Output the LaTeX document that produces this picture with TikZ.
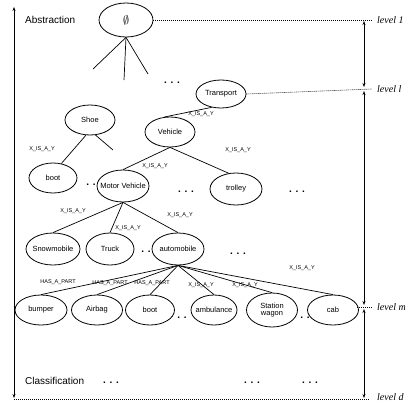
\documentclass[tikz,border=0pt]{standalone}
\usepackage{fontspec}
\setmainfont{Liberation Sans}
\newfontfamily\lvlfont{Liberation Serif}
\usetikzlibrary{shapes.geometric,arrows.meta}
\newcommand\zt[1]{\makebox[0pt]{#1}}
\begin{document}
\begin{tikzpicture}[x=1pt,y=-1pt,
 ell/.style={draw,ellipse,minimum width=50pt,minimum height=30pt,inner sep=0pt,line width=0.8pt,font=\fontsize{7.5}{8.5}\selectfont},
 edge/.style={line width=0.7pt},
 lab/.style={font=\fontsize{5.5}{6.5}\selectfont,inner sep=0pt},
 dts/.style={font=\fontsize{10}{11}\selectfont\bfseries,inner sep=0pt},
 lvl/.style={font=\lvlfont\itshape\fontsize{10}{11}\selectfont,anchor=west,inner sep=0pt},
 dotline/.style={dash pattern=on 1pt off 1pt,line width=0.6pt},
 darr/.style={{Stealth[length=4pt,width=3pt]}-{Stealth[length=4pt,width=3pt]},line width=0.7pt},
 big/.style={font=\fontsize{10}{11}\selectfont,inner sep=0pt,anchor=west}]
\useasboundingbox (0,0) rectangle (414,407);

% nodes
\node[ell,minimum width=54pt,minimum height=34pt,font=\fontsize{12}{13}\selectfont] (phi) at (126,20) {$\emptyset$};
\node[ell,minimum height=28pt] (trans) at (221,94) {\zt{Transport}};
\node[ell] (shoe) at (90,120) {\zt{Shoe}};
\node[ell] (veh) at (170,132) {\zt{Vehicle}};
\node[ell,minimum width=48pt] (boota) at (53,178) {\zt{boot}};
\node[ell,minimum width=52pt,minimum height=32pt] (mv) at (123,186) {\zt{Motor Vehicle}};
\node[ell,minimum width=52pt,minimum height=32pt] (trol) at (236,189) {\zt{trolley}};
\node[ell,minimum width=54pt,minimum height=32pt] (snow) at (53,249) {\zt{Snowmobile}};
\node[ell,minimum width=48pt,minimum height=32pt] (truck) at (110,249) {\zt{Truck}};
\node[ell,minimum width=52pt,minimum height=32pt] (auto) at (178,249) {\zt{automobile}};
\node[ell,minimum width=52pt] (bump) at (41,310) {\zt{bumper}};
\node[ell,minimum width=51pt] (air) at (97,310) {\zt{Airbag}};
\node[ell,minimum width=49pt] (bootb) at (150,310) {\zt{boot}};
\node[ell,minimum width=46pt] (amb) at (214,310) {\zt{ambulance}};
\node[ell,minimum width=51pt,minimum height=34pt,align=center] (sw) at (272,310) {\zt{\shortstack{Station\\wagon}}};
\node[ell,minimum width=51pt] (cab) at (333,310) {\zt{cab}};

% free ends
\coordinate (p1) at (93,69);
\coordinate (p2) at (124,80);
\coordinate (p3) at (148,74);
\coordinate (s1) at (113,150);

% edges
\draw[edge] (phi.south) -- (p1);
\draw[edge] (phi.south) -- (p2);
\draw[edge] (phi.south) -- (p3);
\draw[edge] (trans.235) -- (veh.110);
\draw[edge] (shoe.255) -- (boota.60);
\draw[edge] (shoe.290) -- (s1);
\draw[edge] (veh.south) -- (mv.north);
\draw[edge] (veh.south) -- (trol.115);
\draw[edge] (mv.south) -- (snow.north);
\draw[edge] (mv.south) -- (truck.north);
\draw[edge] (mv.south) -- (auto.north);
\foreach \t in {bump,air,bootb,amb,sw,cab}
  \draw[edge] (auto.south) -- (\t.north);

% edge labels
\node[lab] (l1) at (201,114) {X\_IS\_A\_Y};
\node[lab] (l2) at (42,149) {X\_IS\_A\_Y};
\node[lab] (l3) at (238,150) {X\_IS\_A\_Y};
\node[lab] (l4) at (155,166) {X\_IS\_A\_Y};
\node[lab] (l5) at (73,211) {X\_IS\_A\_Y};
\node[lab] (l6) at (128,228) {X\_IS\_A\_Y};
\node[lab] (l7) at (180,215) {X\_IS\_A\_Y};
\node[lab] (l8) at (58,282) {HAS\_A\_PART};
\node[lab] (l9) at (110,283) {HAS\_A\_PART};
\node[lab] (l10) at (152,283) {HAS\_A\_PART};
\node[lab] (l11) at (201,285) {X\_IS\_A\_Y};
\node[lab] (l12) at (245,285) {X\_IS\_A\_Y};
\node[lab] (l13) at (302,268) {X\_IS\_A\_Y};

% dots
\node[dts] (d1) at (172,83) {. . .};
\node[dts] (d2) at (91,185) {. .};
\node[dts] (d3) at (186,192) {. . .};
\node[dts] (d4) at (297,192) {. . .};
\node[dts] (d5) at (146,252) {. .};
\node[dts] (d6) at (238,254) {. . .};
\node[dts] (d7) at (182,318) {. .};
\node[dts] (d8) at (305,318) {. .};
\node[dts] (d9) at (111,383) {. . .};
\node[dts] (d10) at (252,383) {. . .};
\node[dts] (d11) at (310,383) {. . .};

% side texts
\node[big] (abs) at (25,20) {Abstraction};
\node[big] (cls) at (25,381) {Classification};

% level markers
\coordinate (a0) at (364,21);
\coordinate (a1) at (364,87);
\coordinate (a2) at (364,91);
\coordinate (a3) at (364,305);
\coordinate (a4) at (364,309);
\coordinate (a5) at (364,398);
\coordinate (e1) at (372,20);
\coordinate (e2) at (372,89);
\coordinate (e3a) at (357,307);
\coordinate (e3b) at (372,307);
\coordinate (e4a) at (14,399);
\coordinate (e4b) at (370,399);
\coordinate (lt) at (14,7);
\coordinate (lb) at (14,398);

\draw[dotline] (phi.east) -- (e1);
\draw[dotline] (trans.east) -- (e2);
\draw[dotline] (e3a) -- (e3b);
\draw[dotline] (e4a) -- (e4b);
\draw[darr] (a0) -- (a1);
\draw[darr] (a2) -- (a3);
\draw[darr] (a4) -- (a5);
\draw[darr] (lb) -- (lt);

\node[lvl] (v1) at (377,20) {level 1};
\node[lvl] (v2) at (377,89) {level l};
\node[lvl] (v3) at (377,307) {level m};
\node[lvl] (v4) at (377,397) {level d};
\end{tikzpicture}
\end{document}
